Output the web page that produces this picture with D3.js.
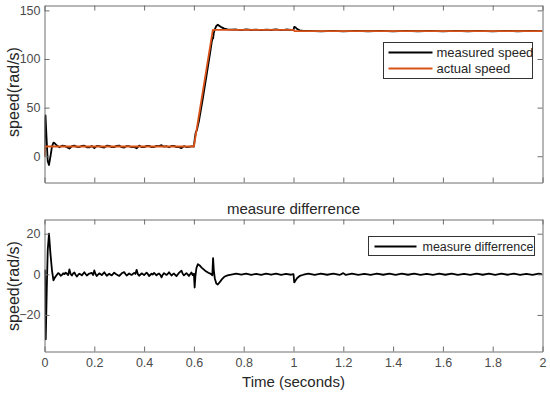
<!DOCTYPE html>
<html><head><meta charset="utf-8">
<script src="https://cdn.jsdelivr.net/npm/d3@7"></script>
<style>
html,body{margin:0;padding:0;background:#fff;}
svg{display:block;font-family:"Liberation Sans",Arial,sans-serif;}
</style></head>
<body><svg id="c" width="550" height="394"></svg>
<script>
// ---------- data ----------
const xTicks = [0,0.2,0.4,0.6,0.8,1,1.2,1.4,1.6,1.8,2];
const topYTicks = [0,50,100,150];
const botYTicks = [-20,0,20];
const legendTop = ["measured speed","actual speed"];
const legendBottom = ["measure differrence"];
const titleBottom = "measure differrence";

// actual speed [t, rad/s]
const actualSpeed = [[0,0],[0.003,10],[0.6,10],[0.676,130],[1.0,130],[1.004,128.7],[2.0,128.7]];

// measured speed [t, rad/s]
const measuredStart = [[0,0],[0.002,40],[0.004,42],[0.008,20],[0.013,-5],[0.018,-9],[0.024,0],[0.03,10],[0.036,14],[0.042,13],[0.05,11]];
const measuredFlat = [[0.06,9.2],[0.07,10.8],[0.08,10.6],[0.09,9.4],[0.10,8.0],[0.11,10.3],[0.12,10.9],[0.13,9.6],[0.14,9.5],[0.15,10.7],[0.16,10.8],[0.17,9.2],[0.18,9.1],[0.19,10.5],[0.20,8.3],[0.21,10.6],[0.22,10.4],[0.23,9.3],[0.24,9.0],[0.25,10.8],[0.26,10.7],[0.27,9.4],[0.28,9.4],[0.29,10.6],[0.30,11.0],[0.31,9.3],[0.32,8.9],[0.33,10.5],[0.34,10.3],[0.35,9.4],[0.36,9.6],[0.37,8.2],[0.38,10.9],[0.39,9.5],[0.40,9.3],[0.41,10.7],[0.42,10.6],[0.43,9.4],[0.44,9.5],[0.45,10.6],[0.46,10.4],[0.47,11.4],[0.48,9.8],[0.49,10.3],[0.50,9.2],[0.51,10.6],[0.52,10.6],[0.53,9.4],[0.54,9.4],[0.55,8.4],[0.56,10.3],[0.57,9.5],[0.58,9.6],[0.59,10.2],[0.597,10.1]];
const measuredRamp = [[0.6,10],[0.603,17],[0.607,24],[0.612,27],[0.62,36],[0.635,58],[0.65,82],[0.665,106],[0.672,118],[0.675,122],[0.677,121],[0.68,127],[0.685,131],[0.69,134],[0.696,135.2],[0.703,134],[0.712,132.5],[0.722,131.2],[0.735,130.5],[0.75,130.1]];
const measuredMid = [[0.77,130.3],[0.79,129.7],[0.81,130.4],[0.83,129.8],[0.85,130.3],[0.87,129.7],[0.89,130.2],[0.91,129.8],[0.93,130.4],[0.95,129.7],[0.97,130.3],[0.99,129.9],[1.0,130],[1.003,133],[1.008,132.5],[1.015,130.8],[1.025,129.5],[1.04,128.9]];
const measuredTail = [[1.06,128.9],[1.11,128.4],[1.16,129.0],[1.2,128.3],[1.25,128.9],[1.3,128.5],[1.35,129.0],[1.4,128.4],[1.45,128.9],[1.5,128.5],[1.55,129.0],[1.6,128.4],[1.65,128.9],[1.7,128.5],[1.75,129.0],[1.8,128.4],[1.85,128.9],[1.9,128.5],[1.95,128.9],[2.0,128.6]];

// measure difference [t, rad/s]
const diffStart = [[0,0],[0.002,2],[0.005,-32],[0.009,-8],[0.013,12],[0.018,20],[0.024,10],[0.03,2],[0.036,-3],[0.042,-1.5]];
const diffFlat = [[0.05,-0.2],[0.055,0.6],[0.06,0.2],[0.065,-0.7],[0.07,-0.3],[0.075,0.5],[0.08,0.1],[0.085,0.8],[0.09,0.3],[0.095,-0.4],[0.10,2.4],[0.105,0.2],[0.11,-0.6],[0.115,0.4],[0.12,0.9],[0.125,-0.2],[0.13,-1.1],[0.135,-0.3],[0.14,0.3],[0.145,0.0],[0.15,-0.5],[0.16,1.0],[0.165,0.2],[0.17,-0.6],[0.175,-0.1],[0.18,0.4],[0.19,0.7],[0.195,-0.3],[0.20,1.9],[0.205,0.1],[0.21,-0.8],[0.22,0.5],[0.225,0.1],[0.23,-0.4],[0.24,1.0],[0.245,0.2],[0.25,-0.7],[0.26,0.3],[0.265,-0.2],[0.27,-0.5],[0.28,0.8],[0.285,0.3],[0.29,-0.1],[0.30,-0.8],[0.305,-0.2],[0.31,0.5],[0.32,1.1],[0.325,0.2],[0.33,-0.6],[0.34,0.4],[0.345,0.0],[0.35,-0.3],[0.36,0.7],[0.365,0.2],[0.37,2.2],[0.375,0.1],[0.38,-0.7],[0.39,0.5],[0.395,0.1],[0.40,-0.4],[0.41,0.8],[0.415,0.2],[0.42,-0.8],[0.43,0.3],[0.435,-0.1],[0.44,0.7],[0.45,-0.5],[0.455,0.1],[0.46,0.4],[0.465,-0.3],[0.47,-1.5],[0.475,-0.2],[0.48,0.6],[0.49,-0.3],[0.495,0.2],[0.50,1.0],[0.51,-0.6],[0.515,0.0],[0.52,0.4],[0.53,-0.9],[0.535,-0.1],[0.54,0.7],[0.55,1.8],[0.555,0.3],[0.56,-0.5],[0.57,0.6],[0.575,0.0],[0.58,-0.8],[0.59,0.9],[0.595,-0.4]];
const diffRamp = [[0.6,0.3],[0.603,-6.5],[0.606,-1],[0.61,3],[0.616,5],[0.622,4.5],[0.632,3.2],[0.645,1.8],[0.658,0.8],[0.668,0.2],[0.674,-0.5],[0.677,8],[0.68,2],[0.684,-2],[0.69,-4.5],[0.696,-5],[0.703,-4],[0.712,-2.5],[0.722,-1.2],[0.735,-0.5],[0.75,-0.1]];
const diffMid = [[0.77,0.3],[0.79,-0.2],[0.81,0.3],[0.83,-0.3],[0.85,0.2],[0.87,-0.3],[0.89,0.3],[0.91,-0.2],[0.93,0.3],[0.95,-0.3],[0.97,0.2],[0.99,-0.2],[1.0,0.1],[1.003,-4],[1.008,-3],[1.015,-1.8],[1.025,-0.8],[1.04,-0.2]];
const diffTail = [[1.06,0.3],[1.085,-0.3],[1.11,0.3],[1.135,-0.2],[1.16,0.3],[1.185,-0.3],[1.2,0.6],[1.21,-0.3],[1.235,0.3],[1.26,-0.3],[1.285,0.2],[1.31,-0.3],[1.335,0.3],[1.36,-0.2],[1.385,0.3],[1.41,-0.3],[1.435,0.3],[1.46,-0.2],[1.485,0.3],[1.51,-0.3],[1.535,0.2],[1.56,-0.3],[1.585,0.3],[1.61,-0.2],[1.635,0.3],[1.66,-0.3],[1.685,0.2],[1.71,-0.3],[1.735,0.3],[1.76,-0.2],[1.785,0.3],[1.81,-0.3],[1.835,0.3],[1.86,-0.2],[1.885,0.3],[1.91,-0.3],[1.935,0.2],[1.96,-0.3],[1.985,0.3],[2.0,0]];

const measuredSpeed = measuredStart.concat(measuredFlat, measuredRamp, measuredMid, measuredTail);
const measureDiff = diffStart.concat(diffFlat, diffRamp, diffMid, diffTail);

// ---------- layout ----------
const svg = d3.select("#c");
const L = 44.5, R = 542.5;
const pTop = {t:5.5, b:182.5, dom:[-27,155]};
const pBot = {t:219.5, b:351.5, dom:[-38,27]};
const axisCol = "#6e6e6e", tickTextCol = "#4a4a4a", labelCol = "#262626";
const ORANGE = "#D95319";
const FONT = "Liberation Sans, Arial, sans-serif";

const x = d3.scaleLinear().domain([0,2]).range([L,R]);

function panel(p, id){
  const y = d3.scaleLinear().domain(p.dom).range([p.b,p.t]);
  svg.append("clipPath").attr("id",id).append("rect")
    .attr("x",L).attr("y",p.t).attr("width",R-L).attr("height",p.b-p.t);
  const styleAx = sel => {
    sel.selectAll("path.domain").attr("stroke",axisCol);
    sel.selectAll(".tick line").attr("stroke",axisCol);
    sel.selectAll(".tick text").attr("fill",tickTextCol).attr("font-size",12.5)
      .attr("font-family",FONT);
  };
  return {y,styleAx};
}

const P1 = panel(pTop, "clip1");
const P2 = panel(pBot, "clip2");

function drawAxes(P, p, yTicks, xLabels){
  const g = svg.append("g");
  g.append("g").attr("transform",`translate(0,${p.b})`)
    .call(d3.axisBottom(x).tickValues(xTicks).tickSizeInner(-5).tickSizeOuter(0).tickPadding(7)
      .tickFormat(xLabels ? d3.format("") : () => ""))
    .call(P.styleAx);
  g.append("g").attr("transform",`translate(0,${p.t})`)
    .call(d3.axisTop(x).tickValues(xTicks).tickSizeInner(-5).tickSizeOuter(0).tickFormat(() => ""))
    .call(P.styleAx);
  g.append("g").attr("transform",`translate(${L},0)`)
    .call(d3.axisLeft(P.y).tickValues(yTicks).tickSizeInner(-5).tickSizeOuter(0).tickPadding(4))
    .call(P.styleAx);
  g.append("g").attr("transform",`translate(${R},0)`)
    .call(d3.axisRight(P.y).tickValues(yTicks).tickSizeInner(-5).tickSizeOuter(0).tickFormat(() => ""))
    .call(P.styleAx);
}

// ---------- top panel lines ----------
const line1 = d3.line().x(d => x(d[0])).y(d => P1.y(d[1]));
svg.append("path").datum(measuredSpeed).attr("clip-path","url(#clip1)")
  .attr("d",line1).attr("fill","none").attr("stroke","#000").attr("stroke-width",1.8).attr("stroke-linejoin","round");
svg.append("path").datum(actualSpeed).attr("clip-path","url(#clip1)")
  .attr("d",line1).attr("fill","none").attr("stroke",ORANGE).attr("stroke-width",1.8).attr("stroke-linejoin","round");
drawAxes(P1, pTop, topYTicks, false);

// ---------- bottom panel line ----------
const line2 = d3.line().x(d => x(d[0])).y(d => P2.y(d[1]));
svg.append("path").datum(measureDiff).attr("clip-path","url(#clip2)")
  .attr("d",line2).attr("fill","none").attr("stroke","#000").attr("stroke-width",1.8).attr("stroke-linejoin","round");
drawAxes(P2, pBot, botYTicks, true);

// ---------- labels ----------
svg.append("text").attr("transform",`translate(19,92) rotate(-90)`)
  .attr("text-anchor","middle").attr("font-size",16).attr("fill",labelCol).text("speed(rad/s)");
svg.append("text").attr("transform",`translate(19,286) rotate(-90)`)
  .attr("text-anchor","middle").attr("font-size",16).attr("fill",labelCol).text("speed(rad/s)");
svg.append("text").attr("x",(L+R)/2).attr("y",387)
  .attr("text-anchor","middle").attr("font-size",15).attr("fill",labelCol).text("Time (seconds)");
svg.append("text").attr("x",(L+R)/2).attr("y",214)
  .attr("text-anchor","middle").attr("font-size",15).attr("fill",labelCol).text(titleBottom);

// ---------- legends ----------
function legend(x0,y0,w,h,items,colors,fs,lx0,lx1,tx){
  const g = svg.append("g");
  g.append("rect").attr("x",x0).attr("y",y0).attr("width",w).attr("height",h)
    .attr("fill","#fff").attr("stroke","#333").attr("stroke-width",1);
  items.forEach((t,i) => {
    const yy = y0 + 10 + i*16;
    g.append("line").attr("x1",x0+lx0).attr("x2",x0+lx1).attr("y1",yy).attr("y2",yy)
      .attr("stroke",colors[i]).attr("stroke-width",1.8);
    g.append("text").attr("x",x0+tx).attr("y",yy+4.5).attr("font-size",fs).attr("fill",labelCol).text(t);
  });
}
legend(383.5,42.5,149,36,legendTop,["#000",ORANGE],13,5,49,53);
legend(368.5,236.5,166,19,legendBottom,["#000"],12.5,6,48,54);
</script></body></html>
